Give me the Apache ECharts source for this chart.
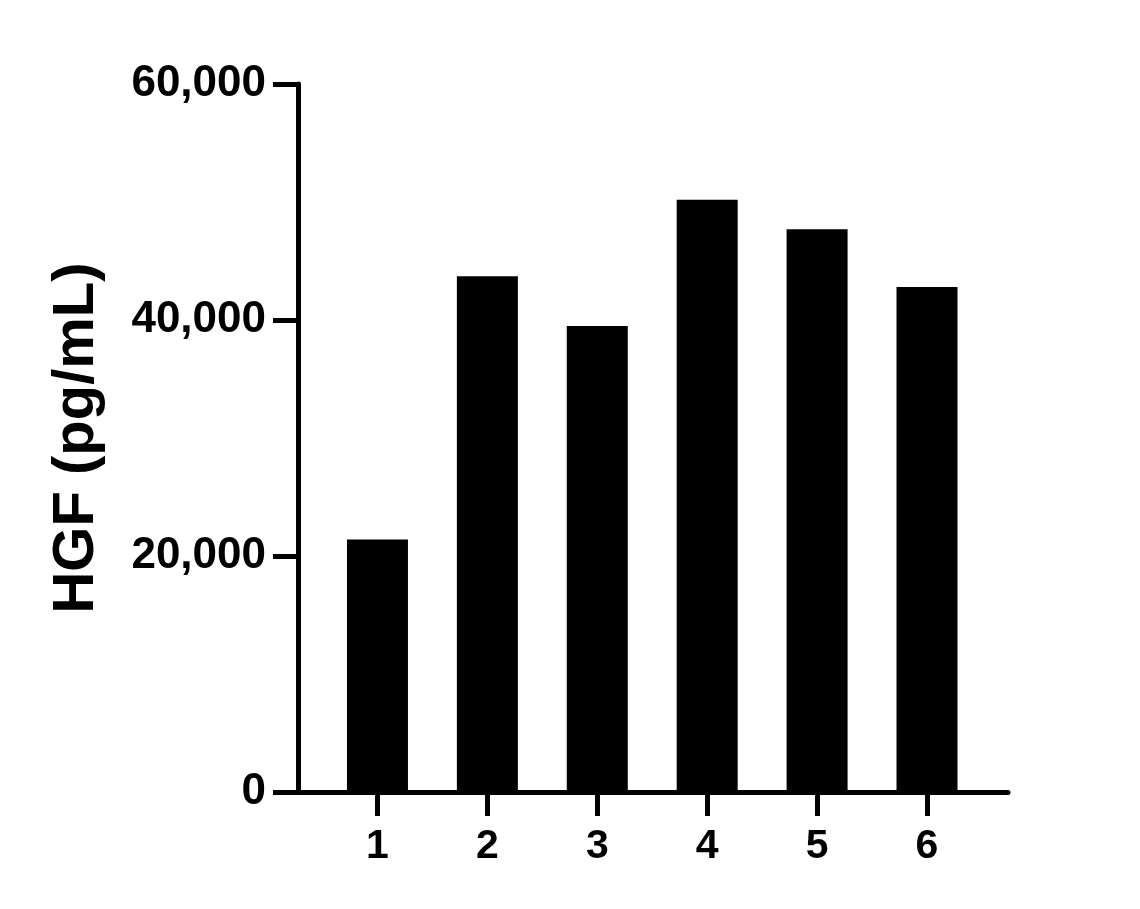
<!DOCTYPE html>
<html>
<head>
<meta charset="utf-8">
<script src="https://cdn.jsdelivr.net/npm/echarts@6/dist/echarts.min.js"></script>
<style>
    html, body { margin: 0; padding: 0; background: #fff; }
    #main { width: 1140px; height: 909px; }
</style>
</head>
<body>
<div id="main"></div>
<script>
    // data
    var groups = [1, 2, 3, 4, 5, 6];
    var hgfValues = [21400, 43700, 39500, 50200, 47700, 42800];
    var yTicks = [0, 20000, 40000, 60000];

    var font = "'Liberation Sans', Arial, sans-serif";

    var barData = [];
    groups.forEach(function (g, i) {
        barData.push([g, hgfValues[i]]);
    });

    var myChart = echarts.init(document.getElementById('main'));

    var option = {
        backgroundColor: '#fff',
        animation: false,
        grid: {
            left: 298,
            right: 132,
            top: 84,
            bottom: 117
        },
        xAxis: {
            type: 'value',
            min: 0.277,
            max: 6.737,
            splitLine: { show: false },
            axisLine: { show: true, lineStyle: { color: '#000', width: 5 } },
            axisTick: {
                show: true,
                length: 24,
                customValues: groups,
                lineStyle: { color: '#000', width: 5 }
            },
            axisLabel: {
                customValues: groups,
                margin: 34,
                color: '#000',
                fontSize: 41,
                fontWeight: 'bold',
                fontFamily: font
            }
        },
        yAxis: {
            type: 'value',
            min: 0,
            max: 60000,
            interval: 20000,
            name: 'HGF (pg/mL)',
            nameLocation: 'middle',
            nameGap: 192,
            nameTextStyle: {
                color: '#000',
                fontSize: 58,
                fontWeight: 'bold',
                fontFamily: font
            },
            splitLine: { show: false },
            axisLine: { show: true, lineStyle: { color: '#000', width: 5 } },
            axisTick: {
                show: true,
                length: 25,
                customValues: yTicks,
                lineStyle: { color: '#000', width: 5 }
            },
            axisLabel: {
                customValues: yTicks,
                margin: 32,
                color: '#000',
                fontSize: 44,
                fontWeight: 'bold',
                fontFamily: font,
                formatter: function (v) {
                    return v.toLocaleString('en-US');
                }
            }
        },
        series: [{
            name: 'HGF',
            type: 'bar',
            barWidth: 61,
            itemStyle: { color: '#000' },
            data: barData
        }]
    };

    myChart.setOption(option);
</script>
</body>
</html>
